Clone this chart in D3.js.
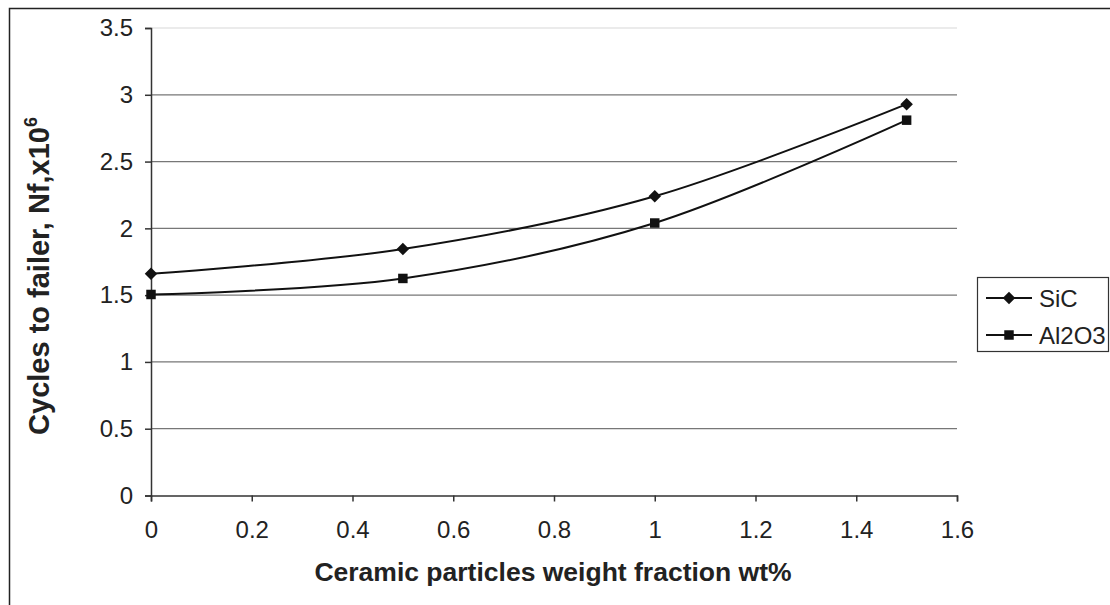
<!DOCTYPE html>
<html><head><meta charset="utf-8">
<script src="https://cdn.jsdelivr.net/npm/d3@7"></script>
<style>body{margin:0;background:#fff}svg{display:block;font-family:Arial,"Liberation Sans",sans-serif}</style>
</head><body>
<script>
const xValues = [0, 0.5, 1, 1.5];
const sicValues = [1.66, 1.845, 2.24, 2.93];
const al2o3Values = [1.505, 1.625, 2.04, 2.81];
const seriesNames = ["SiC", "Al2O3"];
const xTicks = [0, 0.2, 0.4, 0.6, 0.8, 1, 1.2, 1.4, 1.6];
const yTicks = [0, 0.5, 1, 1.5, 2, 2.5, 3, 3.5];

const W = 1110, H = 605;
const svg = d3.select("body").append("svg").attr("width", W).attr("height", H);
svg.append("rect").attr("x", 9.5).attr("y", 8.5).attr("width", 1200).attr("height", 700)
  .attr("fill", "none").attr("stroke", "#222").attr("stroke-width", 1.5);

const x = d3.scaleLinear().domain([0, 1.6]).range([151, 957]);
const y = d3.scaleLinear().domain([0, 3.5]).range([495.5, 28]);

// gridlines
svg.append("g").selectAll("line").data(yTicks.filter(d => d > 0)).join("line")
  .attr("x1", x(0)).attr("x2", x(1.6)).attr("y1", d => y(d)).attr("y2", d => y(d))
  .attr("stroke", d => d === 3.5 ? "#e4e4e4" : "#777").attr("stroke-width", 1.3);

// axes
const yAxis = svg.append("g").attr("transform", `translate(${x(0)},0)`)
  .call(d3.axisLeft(y).tickValues(yTicks).tickSize(6).tickPadding(12).tickFormat(d3.format("")));
const xAxis = svg.append("g").attr("transform", `translate(0,${y(0)})`)
  .call(d3.axisBottom(x).tickValues(xTicks).tickSize(6).tickPadding(19).tickFormat(d3.format("")));
[yAxis, xAxis].forEach(a => {
  a.select(".domain").attr("stroke", "#333").attr("stroke-width", 1.5);
  a.selectAll(".tick line").attr("stroke", "#333").attr("stroke-width", 1.5);
  a.selectAll("text").attr("font-size", 24).attr("fill", "#222").attr("font-family", "Arial, 'Liberation Sans', sans-serif");
});

const line = d3.line().x(d => x(d[0])).y(d => y(d[1])).curve(d3.curveCatmullRom.alpha(0));
const data = [sicValues, al2o3Values].map(v => xValues.map((xv, i) => [xv, v[i]]));
const symbols = [d3.symbol().type(d3.symbolSquare).size(78), d3.symbol().type(d3.symbolSquare).size(90)];
const rot = [45, 0];

data.forEach((pts, k) => {
  svg.append("path").attr("d", line(pts)).attr("fill", "none").attr("stroke", "#111").attr("stroke-width", 2);
  svg.append("g").selectAll("path").data(pts).join("path")
    .attr("transform", d => `translate(${x(d[0])},${y(d[1])}) rotate(${rot[k]})`)
    .attr("d", symbols[k]()).attr("fill", "#111");
});

// legend
const lg = svg.append("g");
lg.append("rect").attr("x", 977.5).attr("y", 277.5).attr("width", 131).attr("height", 74)
  .attr("fill", "#fff").attr("stroke", "#333").attr("stroke-width", 1.2);
seriesNames.forEach((n, k) => {
  const ly = 298 + k * 37;
  lg.append("line").attr("x1", 986).attr("x2", 1032).attr("y1", ly).attr("y2", ly).attr("stroke", "#111").attr("stroke-width", 2);
  lg.append("path").attr("transform", `translate(1009,${ly}) rotate(${rot[k]})`).attr("d", symbols[k]()).attr("fill", "#111");
  lg.append("text").attr("x", 1039).attr("y", ly + 9).attr("font-size", 24).attr("fill", "#222").text(n);
});

// axis titles
svg.append("text").attr("x", 553).attr("y", 581).attr("text-anchor", "middle")
  .attr("font-size", 26.5).attr("font-weight", "bold").attr("fill", "#222")
  .text("Ceramic particles weight fraction wt%");
const yt = svg.append("text").attr("transform", "translate(49,276) rotate(-90)").attr("text-anchor", "middle")
  .attr("font-size", 29).attr("font-weight", "bold").attr("fill", "#222");
yt.append("tspan").text("Cycles to failer, Nf,x10");
yt.append("tspan").attr("dy", -12).attr("font-size", 18).text("6");
</script>
</body></html>
